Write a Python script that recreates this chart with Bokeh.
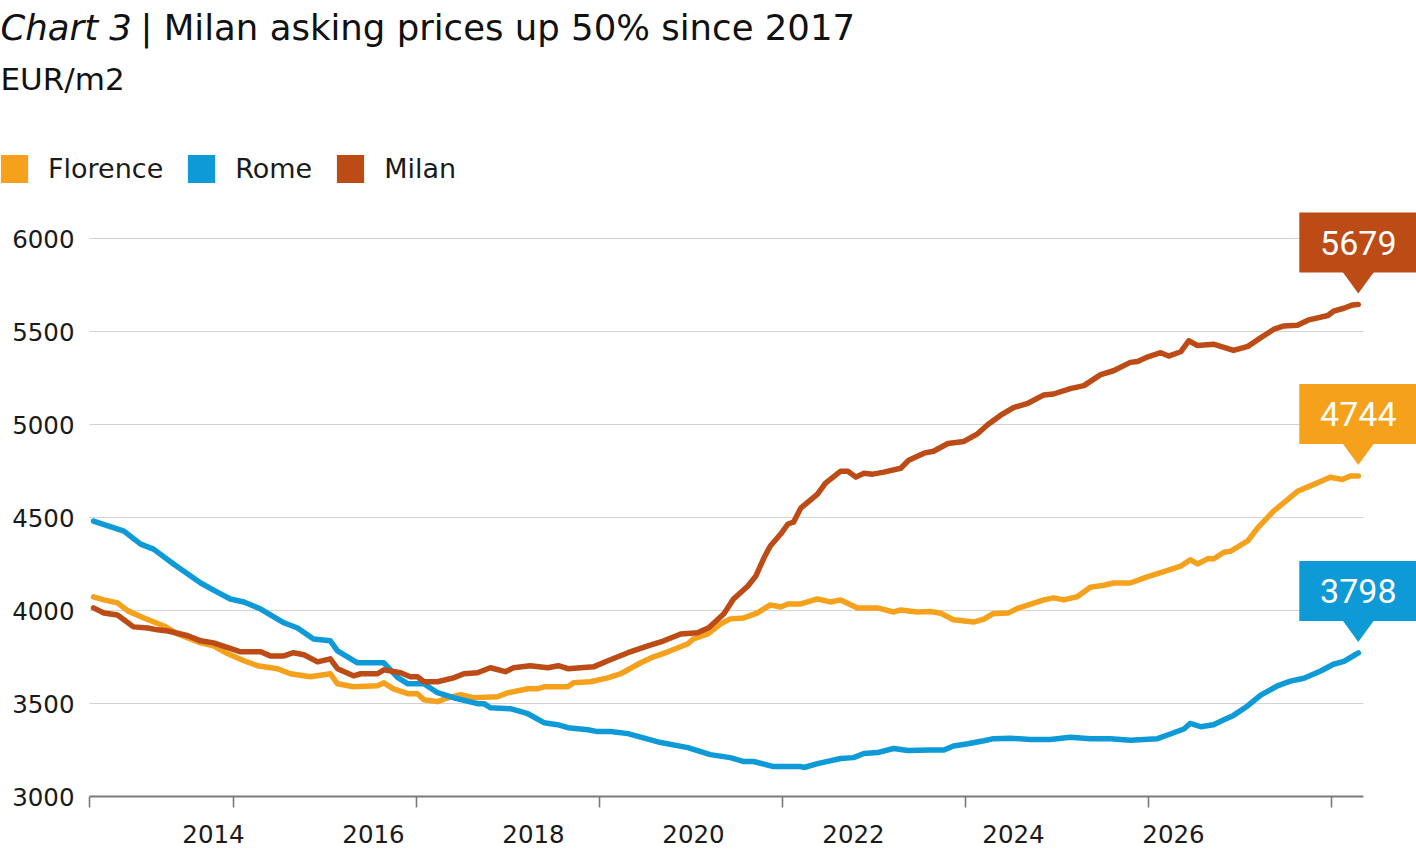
from bokeh.plotting import figure
from bokeh.models import FixedTicker, Label, Legend, LegendItem
from bokeh.core.properties import value
from bokeh.embed import file_html
from bokeh.resources import INLINE

# ---------------- data (decimal years, EUR/m2) ----------------
florence_x = [2012.50, 2012.63, 2012.80, 2012.93, 2013.13, 2013.38, 2013.55, 2013.84, 2014.00, 2014.18,
              2014.38, 2014.55, 2014.80, 2014.96, 2015.21, 2015.46, 2015.55, 2015.75, 2016.05, 2016.13,
              2016.25, 2016.43, 2016.55, 2016.63, 2016.80, 2016.93, 2017.09, 2017.25, 2017.55, 2017.68,
              2017.93, 2018.05, 2018.13, 2018.43, 2018.50, 2018.71, 2018.93, 2019.09, 2019.34, 2019.50,
              2019.68, 2019.93, 2020.00, 2020.18, 2020.34, 2020.46, 2020.63, 2020.80, 2020.96, 2021.09,
              2021.18, 2021.34, 2021.55, 2021.71, 2021.84, 2022.05, 2022.30, 2022.50, 2022.59, 2022.80,
              2022.96, 2023.09, 2023.25, 2023.50, 2023.63, 2023.74, 2023.93, 2024.05, 2024.38, 2024.50,
              2024.63, 2024.80, 2024.96, 2025.13, 2025.25, 2025.46, 2025.68, 2025.88, 2026.09, 2026.21,
              2026.30, 2026.43, 2026.50, 2026.63, 2026.71, 2026.93, 2027.05, 2027.25, 2027.38, 2027.55,
              2027.71, 2027.96, 2028.11, 2028.21, 2028.31]
florence_y = [4073, 4057, 4041, 3998, 3960, 3917, 3874, 3826, 3810, 3767,
              3730, 3703, 3687, 3660, 3644, 3660, 3606, 3590, 3595, 3611,
              3579, 3553, 3553, 3520, 3510, 3531, 3547, 3531, 3536, 3558,
              3579, 3579, 3590, 3590, 3611, 3617, 3638, 3660, 3719, 3751,
              3778, 3821, 3848, 3874, 3928, 3955, 3960, 3987, 4030, 4019,
              4035, 4035, 4062, 4046, 4057, 4014, 4014, 3992, 4003, 3992,
              3995, 3985, 3950, 3938, 3954, 3982, 3986, 4011, 4057, 4068,
              4057, 4075, 4125, 4136, 4148, 4148, 4182, 4209, 4238, 4273,
              4250, 4279, 4277, 4313, 4318, 4375, 4443, 4534, 4580, 4641,
              4670, 4716, 4704, 4723, 4723]

rome_x = [2012.50, 2012.88, 2013.09, 2013.25, 2013.50, 2013.84, 2014.00, 2014.21, 2014.38, 2014.59,
          2014.88, 2015.05, 2015.25, 2015.46, 2015.55, 2015.80, 2016.13, 2016.30, 2016.43, 2016.63,
          2016.80, 2017.00, 2017.30, 2017.38, 2017.46, 2017.71, 2017.93, 2018.13, 2018.30, 2018.43,
          2018.68, 2018.80, 2018.96, 2019.18, 2019.59, 2019.93, 2020.21, 2020.46, 2020.63, 2020.75,
          2021.00, 2021.34, 2021.38, 2021.55, 2021.84, 2022.00, 2022.13, 2022.30, 2022.50, 2022.68,
          2022.96, 2023.13, 2023.25, 2023.43, 2023.63, 2023.75, 2023.96, 2024.21, 2024.46, 2024.71,
          2024.96, 2025.21, 2025.46, 2025.80, 2025.96, 2026.13, 2026.21, 2026.34, 2026.50, 2026.63,
          2026.75, 2026.93, 2027.09, 2027.30, 2027.46, 2027.63, 2027.84, 2028.00, 2028.13, 2028.24,
          2028.31]
rome_y = [4481, 4427, 4357, 4330, 4250, 4148, 4110, 4062, 4046, 4008,
          3934, 3906, 3847, 3837, 3783, 3719, 3719, 3640, 3606, 3606,
          3558, 3531, 3499, 3499, 3477, 3472, 3445, 3397, 3386, 3370,
          3359, 3349, 3349, 3338, 3290, 3263, 3225, 3209, 3188, 3188,
          3161, 3161, 3156, 3177, 3204, 3209, 3231, 3236, 3258, 3247,
          3250, 3250, 3272, 3284, 3300, 3311, 3313, 3307, 3307, 3318,
          3311, 3311, 3302, 3311, 3336, 3363, 3393, 3375, 3386, 3413,
          3436, 3488, 3545, 3595, 3620, 3636, 3675, 3711, 3727, 3754,
          3772]

milan_x = [2012.50, 2012.63, 2012.80, 2013.00, 2013.18, 2013.30, 2013.43, 2013.68, 2013.84, 2014.00,
           2014.18, 2014.34, 2014.59, 2014.71, 2014.88, 2015.00, 2015.13, 2015.30, 2015.46, 2015.55,
           2015.75, 2015.84, 2016.05, 2016.13, 2016.34, 2016.46, 2016.55, 2016.63, 2016.80, 2017.00,
           2017.13, 2017.30, 2017.46, 2017.65, 2017.75, 2017.96, 2018.18, 2018.31, 2018.43, 2018.75,
           2018.93, 2019.18, 2019.43, 2019.63, 2019.84, 2020.05, 2020.19, 2020.38, 2020.50, 2020.68,
           2020.78, 2020.88, 2020.96, 2021.09, 2021.18, 2021.25, 2021.34, 2021.55, 2021.65, 2021.84,
           2021.93, 2022.03, 2022.13, 2022.24, 2022.38, 2022.59, 2022.69, 2022.88, 2023.00, 2023.18,
           2023.38, 2023.55, 2023.68, 2023.84, 2024.00, 2024.18, 2024.38, 2024.50, 2024.71, 2024.88,
           2025.09, 2025.25, 2025.46, 2025.55, 2025.68, 2025.84, 2025.94, 2026.09, 2026.19, 2026.30,
           2026.50, 2026.75, 2026.93, 2027.09, 2027.25, 2027.38, 2027.55, 2027.68, 2027.93, 2028.00,
           2028.13, 2028.24, 2028.31]
milan_y = [4014, 3987, 3976, 3912, 3906, 3896, 3890, 3864, 3837, 3826,
           3800, 3778, 3778, 3756, 3756, 3773, 3762, 3724, 3740, 3687,
           3649, 3660, 3660, 3681, 3665, 3644, 3644, 3617, 3617, 3638,
           3660, 3665, 3692, 3671, 3692, 3703, 3692, 3703, 3687, 3697,
           3730, 3773, 3810, 3837, 3874, 3880, 3907, 3982, 4062, 4132,
           4186, 4282, 4347, 4411, 4465, 4475, 4550, 4626, 4685, 4749,
           4749, 4717, 4738, 4733, 4744, 4765, 4808, 4846, 4856, 4898,
           4909, 4950, 5000, 5050, 5091, 5114, 5159, 5164, 5193, 5209,
           5268, 5289, 5334, 5339, 5364, 5386, 5368, 5391, 5450, 5425,
           5432, 5398, 5420, 5466, 5511, 5530, 5534, 5561, 5586, 5609,
           5625, 5643, 5645]

series_names = ["Florence", "Rome", "Milan"]
callout_texts = ["4744", "3798", "5679"]
year_label_ticks = [2014, 2016, 2018, 2020, 2022, 2024, 2026]
tick_mark_years = [2012.45, 2014.25, 2016.54, 2018.83, 2021.11, 2023.40, 2025.69, 2027.98]
y_ticks = [3000, 3500, 4000, 4500, 5000, 5500, 6000]

# ---------------- style / layout ----------------
COLORS = ["#F5A11C", "#0E9AD7", "#BC4B16"]
FONT = "DejaVu Sans"
NUM_FONT = "Roboto"
W, H = 1416, 864
X_START, X_END = 2011.3375, 2029.0375      # frame spans the full width
AXIS_START, AXIS_END = 2012.45, 2028.375
Y_AXIS_AT = 3000
UNITS_PER_PX = 3000 / 558
Y_START = Y_AXIS_AT - 68 * UNITS_PER_PX     # frame spans the full height
Y_END = Y_AXIS_AT + 796 * UNITS_PER_PX
YPX = UNITS_PER_PX                          # value units per pixel
XPX = (X_END - X_START) / W                 # years per pixel

p = figure(width=W, height=H, output_backend="svg", toolbar_location=None,
           x_range=(X_START, X_END), y_range=(Y_START, Y_END),
           min_border_left=0, min_border_right=0, min_border_top=0,
           min_border_bottom=0)
p.outline_line_color = None
p.xgrid.visible = False
p.ygrid.visible = False
p.background_fill_color = "white"
p.border_fill_color = "white"

# x axis, pinned at y = 3000
xa = p.xaxis[0]
xa.fixed_location = Y_AXIS_AT
xa.ticker = FixedTicker(ticks=year_label_ticks, minor_ticks=tick_mark_years)
xa.bounds = (AXIS_START, AXIS_END)
xa.axis_line_color = "#7a7a7a"
xa.axis_line_width = 2
xa.major_tick_line_color = None
xa.major_tick_out = 0
xa.major_tick_in = 0
xa.minor_tick_line_color = "#7a7a7a"
xa.minor_tick_line_width = 1.6
xa.minor_tick_out = 11
xa.minor_tick_in = 0
xa.major_label_standoff = 17
xa.major_label_text_font = FONT
xa.major_label_text_font_size = "24.5px"
xa.major_label_text_color = "#1a1a1a"

# y axis, pinned at the left end of the x axis
ya = p.yaxis[0]
ya.ticker = FixedTicker(ticks=y_ticks)
ya.fixed_location = AXIS_START
ya.axis_line_color = None
ya.major_tick_line_color = None
ya.minor_tick_line_color = None
ya.major_tick_out = 0
ya.major_tick_in = 0
ya.major_label_standoff = 15
ya.major_label_text_font = FONT
ya.major_label_text_font_size = "24.5px"
ya.major_label_text_color = "#1a1a1a"

# horizontal grid lines, limited to the axis extent
grid_vals = y_ticks[1:]
p.segment(x0=[AXIS_START] * len(grid_vals), x1=[AXIS_END] * len(grid_vals),
          y0=grid_vals, y1=grid_vals, line_color="#d2d2d2", line_width=1.2)

xs_all = [florence_x, rome_x, milan_x]
ys_all = [florence_y, rome_y, milan_y]

for xs, ys, c in zip(xs_all, ys_all, COLORS):
    p.line(xs, ys, line_color=c, line_width=5.5, line_join="round", line_cap="round")

# callouts at the last point of each series (boxes double as legend swatches)
legend_items = []
for name, xs, ys, c, txt in zip(series_names, xs_all, ys_all, COLORS, callout_texts):
    lx, ly = xs[-1], ys[-1]
    box = p.quad(left=[lx - 59 * XPX], right=[lx + 59 * XPX],
                 bottom=[ly + 32 * YPX], top=[ly + 92 * YPX],
                 fill_color=c, line_color=None)
    p.patch(x=[lx - 16 * XPX, lx + 16 * XPX, lx],
            y=[ly + 33 * YPX, ly + 33 * YPX, ly + 11 * YPX],
            fill_color=c, line_color=None)
    p.text(x=[lx], y=[ly + 62 * YPX], text=[txt], text_color="white",
           text_font=value(NUM_FONT), text_font_size="34px",
           text_align="center", text_baseline="middle")
    legend_items.append(LegendItem(label=name, renderers=[box]))

legend = Legend(items=legend_items, orientation="horizontal", location=(-3, 610 + 68),
                glyph_width=34, glyph_height=35, label_standoff=17, spacing=21,
                padding=0, margin=0, border_line_color=None, background_fill_alpha=0,
                label_text_font=FONT, label_text_font_size="27px",
                label_text_color="#1a1a1a", label_height=35)
p.add_layout(legend)

# title and subtitle (screen units measured from the frame's bottom = figure bottom)
p.add_layout(Label(x=0, y=H - 27, x_units="screen", y_units="screen",
                   text="Chart 3", text_font=FONT, text_font_style="italic",
                   text_font_size="35.5px", text_color="#111111",
                   text_baseline="alphabetic"))
p.add_layout(Label(x=140, y=H - 27, x_units="screen", y_units="screen",
                   text="| Milan asking prices up 50% since 2017", text_font=FONT,
                   text_font_size="35.5px", text_color="#111111",
                   text_baseline="alphabetic"))
p.add_layout(Label(x=0, y=H - 78, x_units="screen", y_units="screen",
                   text="EUR/m2", text_font=FONT, text_font_size="31px",
                   text_color="#111111", text_baseline="alphabetic"))

open("out.html", "w").write(file_html(p, INLINE))
